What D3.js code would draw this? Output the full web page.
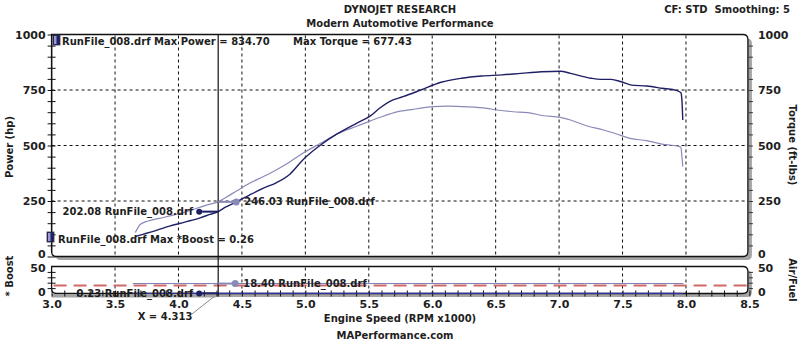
<!DOCTYPE html>
<html><head><meta charset="utf-8">
<script src="https://cdn.jsdelivr.net/npm/d3@7"></script>
<style>
body{margin:0;background:#fff;}
svg{display:block;font-family:"DejaVu Sans",Verdana,sans-serif;font-weight:bold;}
text{fill:#1e1e1e;white-space:pre;}
</style></head><body>
<svg id="chart" width="800" height="342"></svg>
<script>
// Dyno run: RunFile_008.drf
const xTickValues = [3.0, 3.5, 4.0, 4.5, 5.0, 5.5, 6.0, 6.5, 7.0, 7.5, 8.0, 8.5];
const mainTickValues = [0, 250, 500, 750, 1000];
const lowTickValues = [0, 50];

const powerRpm = [3.66, 3.72, 3.78, 3.93, 4.05, 4.17, 4.25, 4.313, 4.37, 4.46, 4.56, 4.67, 4.77, 4.88, 4.98, 5.12, 5.25, 5.41, 5.51, 5.59, 5.67, 5.77, 5.91, 6.07, 6.23, 6.39, 6.55, 6.70, 6.86, 7.01, 7.09, 7.25, 7.33, 7.41, 7.49, 7.57, 7.69, 7.81, 7.93, 7.96, 7.968, 7.975];
const powerHp  = [90, 100, 110, 137, 155, 174, 190, 202.08, 222, 247, 277, 308, 332, 372, 435, 502, 552, 602, 632, 670, 700, 720, 750, 785, 803, 813, 818, 825, 832, 834.70, 825, 803, 798, 798, 787, 772, 768, 758, 747, 738, 705, 615];

const torqueRpm = [3.66, 3.70, 3.76, 3.85, 3.95, 4.05, 4.17, 4.25, 4.313, 4.37, 4.46, 4.56, 4.67, 4.77, 4.88, 4.98, 5.12, 5.25, 5.41, 5.51, 5.59, 5.70, 5.85, 6.01, 6.12, 6.28, 6.43, 6.51, 6.64, 6.75, 6.88, 7.01, 7.09, 7.22, 7.35, 7.48, 7.56, 7.69, 7.82, 7.93, 7.96, 7.968, 7.975];
const torqueFtLbs = [108, 145, 160, 172, 185, 200, 222, 236, 246.03, 265, 296, 330, 360, 390, 427, 465, 510, 552, 588, 610, 627, 648, 663, 675, 677.43, 674, 667, 660, 652, 648, 634, 627, 615, 588, 570, 547, 532, 522, 505, 498, 492, 450, 405];

const boostRpm = [3.64, 4.0, 4.313, 4.8, 5.5, 6.2, 6.9, 7.5, 7.98];
const boostPsi = [0.15, 0.2, 0.23, 0.24, 0.26, 0.25, 0.24, 0.22, 0.2];

const afrRpm = [3.64, 4.0, 4.313, 5.0, 5.8, 6.5, 7.2, 7.98];
const afrRatio = [18.4, 18.4, 18.40, 18.4, 18.4, 18.4, 18.4, 18.4];

const stoichAfr = 14.7;
const cursorRpm = 4.313;
const cursorPower = 202.08, cursorTorque = 246.03, cursorBoost = 0.23, cursorAfr = 18.40;
const maxPower = 834.70, maxTorque = 677.43, maxBoost = 0.26;
const runName = "RunFile_008.drf";

const powerColor = "#1f1f66";
const torqueColor = "#8a8ab8";

const svg = d3.select("#chart");

const x = d3.scaleLinear().domain([3, 8.5]).range([51.6, 749.4]);
const yMain = d3.scaleLinear().domain([0, 1000]).range([256.5, 34.5]);
const yLow = d3.scaleLinear().domain([0, 50]).range([293.5, 266.5]);

const left = x(3), right = x(8.5) - 1.5;

// header
svg.append("text").attr("x", 400).attr("y", 9).attr("text-anchor", "middle")
  .attr("dominant-baseline", "central").attr("font-size", 10).text("DYNOJET RESEARCH");
svg.append("text").attr("x", 400).attr("y", 23).attr("text-anchor", "middle")
  .attr("dominant-baseline", "central").attr("font-size", 10).text("Modern Automotive Performance");
svg.append("text").attr("x", 790).attr("y", 9).attr("text-anchor", "end")
  .attr("dominant-baseline", "central").attr("font-size", 10).text("CF: STD  Smoothing: 5");

function panelPath(l, t, r, b, rad) {
  return `M${l},${t} H${r - rad} Q${r},${t} ${r},${t + rad} V${b - rad} Q${r},${b} ${r - rad},${b} H${l + rad} Q${l},${b} ${l},${b - rad} Z`;
}

// panels with drop shadows
const panels = [
  {t: yMain(1000), b: yMain(0)},
  {t: yLow(50), b: yLow(0)}
];
panels.forEach(p => {
  svg.append("path").attr("d", panelPath(left + 4, p.t + 4, right + 4, p.b + 3.5, 5))
    .attr("fill", "#a4a4a4");
  svg.append("path").attr("d", panelPath(left, p.t, right, p.b, 5))
    .attr("fill", "#fff").attr("stroke", "#111").attr("stroke-width", 1.3);
});

// grid
const gridX = xTickValues.filter(v => v > 3 && v < 8.5);
const grid = svg.append("g").attr("stroke", "#111").attr("stroke-width", 1).attr("stroke-dasharray", "3,3");
gridX.forEach(v => {
  grid.append("line").attr("x1", x(v)).attr("x2", x(v)).attr("y1", yMain(1000) + 1).attr("y2", yMain(0) - 1);
  grid.append("line").attr("x1", x(v)).attr("x2", x(v)).attr("y1", yLow(50) + 1).attr("y2", yLow(0));
});
[250, 500, 750].forEach(v => {
  grid.append("line").attr("x1", left).attr("x2", right).attr("y1", yMain(v)).attr("y2", yMain(v));
});

// axes
function styleAxis(g) {
  g.select(".domain").remove();
  g.selectAll("text").attr("font-size", 11).attr("font-family", "DejaVu Sans, Verdana, sans-serif")
    .attr("font-weight", "bold").attr("fill", "#1e1e1e");
}
const intFmt = d3.format("d");
// left main: minor crosses every 50
svg.append("g").attr("transform", `translate(${left + 4},0)`)
  .call(d3.axisLeft(yMain).tickValues(d3.range(0, 1001, 50)).tickSize(4).tickFormat(""))
  .call(g => g.select(".domain").remove()).selectAll("line").attr("x2", -8).attr("stroke", "#111");
const mainLeft = svg.append("g").attr("transform", `translate(${left},0)`)
  .call(d3.axisLeft(yMain).tickValues(mainTickValues).tickSize(0).tickPadding(6).tickFormat(intFmt)).call(styleAxis);
svg.append("line").attr("x1", left).attr("x2", left).attr("y1", yMain(1000)).attr("y2", yMain(0) - 4)
  .attr("stroke", "#111").attr("stroke-width", 1.3);

// right main
svg.append("g").attr("transform", `translate(${right + 1},0)`)
  .call(d3.axisRight(yMain).tickValues(d3.range(50, 1000, 50)).tickSize(4).tickFormat(""))
  .call(g => g.select(".domain").remove()).selectAll("line").attr("stroke", "#333");
const mainRight = svg.append("g").attr("transform", `translate(${right + 8},0)`)
  .call(d3.axisRight(yMain).tickValues(mainTickValues).tickSize(0).tickPadding(2).tickFormat(intFmt)).call(styleAxis);

// low panel axes
svg.append("g").attr("transform", `translate(${left + 4},0)`)
  .call(d3.axisLeft(yLow).tickValues(d3.range(10, 50, 10)).tickSize(4).tickFormat(""))
  .call(g => g.select(".domain").remove()).selectAll("line").attr("x2", -8).attr("stroke", "#111");
const lowLeft = svg.append("g").attr("transform", `translate(${left},0)`)
  .call(d3.axisLeft(yLow).tickValues(lowTickValues).tickSize(0).tickPadding(6).tickFormat(intFmt)).call(styleAxis);
svg.append("g").attr("transform", `translate(${right + 1},0)`)
  .call(d3.axisRight(yLow).tickValues(d3.range(10, 50, 10)).tickSize(4).tickFormat(""))
  .call(g => g.select(".domain").remove()).selectAll("line").attr("stroke", "#333");
const lowRight = svg.append("g").attr("transform", `translate(${right + 8},0)`)
  .call(d3.axisRight(yLow).tickValues(lowTickValues).tickSize(0).tickPadding(2).tickFormat(intFmt)).call(styleAxis);

// the stacked "0" / "50" labels between the panels sit slightly apart
[mainLeft, mainRight].forEach(g => g.selectAll(".tick").filter(d => d === 0).select("text").attr("dy", "0.1em"));
[lowLeft, lowRight].forEach(g => g.selectAll(".tick").filter(d => d === 50).select("text").attr("dy", "0.42em"));
[lowLeft, lowRight].forEach(g => g.selectAll(".tick").filter(d => d === 0).select("text").attr("dy", "0.18em"));

// shadow band under low axis left of cursor
svg.append("rect").attr("x", left).attr("y", yLow(0) + 0.5).attr("width", x(cursorRpm) - left - 2).attr("height", 3.5)
  .attr("fill", "#a4a4a4");

// bottom x axis with minor crosses every 0.1
svg.append("g").attr("transform", `translate(0,${yLow(0) + 3})`)
  .call(d3.axisBottom(x).tickValues(d3.range(30, 86, 1).map(v => v / 10)).tickSize(0).tickFormat(""))
  .call(g => g.select(".domain").remove())
  .selectAll(".tick line").attr("y1", -6).attr("y2", 0).attr("stroke", "#111");
svg.append("g").attr("transform", `translate(0,${yLow(0) + 4.5})`)
  .call(d3.axisBottom(x).tickValues(xTickValues).tickSize(0).tickPadding(2).tickFormat(d3.format(".1f")))
  .call(styleAxis);

// axis titles
svg.append("text").attr("transform", "translate(9,147) rotate(-90)").attr("text-anchor", "middle")
  .attr("dominant-baseline", "central").attr("font-size", 10).text("Power (hp)");
svg.append("text").attr("transform", "translate(792,145) rotate(90)").attr("text-anchor", "middle")
  .attr("dominant-baseline", "central").attr("font-size", 10).text("Torque (ft-lbs)");
svg.append("text").attr("transform", "translate(9,276) rotate(-90)").attr("text-anchor", "middle")
  .attr("dominant-baseline", "central").attr("font-size", 10).text("* Boost");
svg.append("text").attr("transform", "translate(792,280) rotate(90)").attr("text-anchor", "middle")
  .attr("dominant-baseline", "central").attr("font-size", 10).text("Air/Fuel");
svg.append("text").attr("x", 400).attr("y", 318).attr("text-anchor", "middle")
  .attr("dominant-baseline", "central").attr("font-size", 10).text("Engine Speed (RPM x1000)");
svg.append("text").attr("x", 395).attr("y", 335).attr("text-anchor", "middle")
  .attr("dominant-baseline", "central").attr("font-size", 10).text("MAPerformance.com");

// stoichiometric reference
svg.append("line").attr("x1", left + 2).attr("x2", right).attr("y1", yLow(stoichAfr)).attr("y2", yLow(stoichAfr))
  .attr("stroke", "#d06a6a").attr("stroke-width", 2).attr("stroke-dasharray", "13,7");

// curves
const line = (xs, ys, yScale) => d3.line().curve(d3.curveMonotoneX)
  .x((d, i) => x(xs[i])).y((d, i) => yScale(ys[i]))(ys);
svg.append("path").attr("d", line(torqueRpm, torqueFtLbs, yMain)).attr("fill", "none")
  .attr("stroke", torqueColor).attr("stroke-width", 1.2);
svg.append("path").attr("d", line(powerRpm, powerHp, yMain)).attr("fill", "none")
  .attr("stroke", powerColor).attr("stroke-width", 1.4);
svg.append("path").attr("d", line(afrRpm, afrRatio, yLow)).attr("fill", "none")
  .attr("stroke", "#7a7ab0").attr("stroke-width", 1);
svg.append("path").attr("d", line(boostRpm, boostPsi, yLow)).attr("fill", "none")
  .attr("stroke", "#3030a0").attr("stroke-width", 1.2);

// cursor
const cx = x(cursorRpm);
svg.append("line").attr("x1", cx).attr("x2", cx).attr("y1", yMain(1000)).attr("y2", yLow(0) + 3)
  .attr("stroke", "#111").attr("stroke-width", 1.2);
svg.append("line").attr("x1", 192).attr("y1", 314).attr("x2", cx - 4).attr("y2", yLow(0) + 3)
  .attr("stroke", "#888").attr("stroke-width", 1);
svg.append("text").attr("x", 165).attr("y", 316.5).attr("text-anchor", "middle")
  .attr("dominant-baseline", "central").attr("font-size", 10).text("X = " + cursorRpm.toFixed(3));

// cursor readouts
function readout(yScale, value, dx, color, r, textStr, side) {
  const py = yScale(value);
  const mx = cx + dx;
  svg.append("line").attr("x1", Math.min(cx, mx)).attr("x2", Math.max(cx, mx)).attr("y1", py).attr("y2", py)
    .attr("stroke", color).attr("stroke-width", 2);
  svg.append("circle").attr("cx", mx).attr("cy", py).attr("r", r).attr("fill", color);
  svg.append("text").attr("x", side < 0 ? mx - 6 : mx + 8).attr("y", py)
    .attr("text-anchor", side < 0 ? "end" : "start").attr("dominant-baseline", "central")
    .attr("font-size", 10).text(textStr);
}
readout(yMain, cursorPower, -19, powerColor, 3, cursorPower.toFixed(2) + " " + runName, -1);
readout(yMain, cursorTorque, 18, torqueColor, 3.5, cursorTorque.toFixed(2) + " " + runName, 1);
readout(yLow, cursorBoost, -19, powerColor, 3, cursorBoost.toFixed(2) + " " + runName, -1);
readout(yLow, cursorAfr, 17, torqueColor, 3.5, cursorAfr.toFixed(2) + " " + runName, 1);

// legend entries
function legendIcon(lx, ly) {
  svg.append("rect").attr("x", lx).attr("y", ly).attr("width", 7).attr("height", 10)
    .attr("fill", powerColor).attr("stroke", "#334").attr("stroke-width", 0.8);
  svg.append("rect").attr("x", lx + 1).attr("y", ly + 1).attr("width", 2.5).attr("height", 8)
    .attr("fill", "#9a9ad0");
}
legendIcon(53, 35);
svg.append("text").attr("x", 62).attr("y", 41).attr("dominant-baseline", "central").attr("font-size", 10)
  .text(runName + " Max Power = " + maxPower.toFixed(2));
svg.append("text").attr("x", 293).attr("y", 41).attr("dominant-baseline", "central").attr("font-size", 10)
  .text("Max Torque = " + maxTorque.toFixed(2));
legendIcon(47, 232);
svg.append("text").attr("x", 58).attr("y", 239).attr("dominant-baseline", "central").attr("font-size", 10)
  .text(runName + " Max *Boost = " + maxBoost.toFixed(2));
</script>
</body></html>
